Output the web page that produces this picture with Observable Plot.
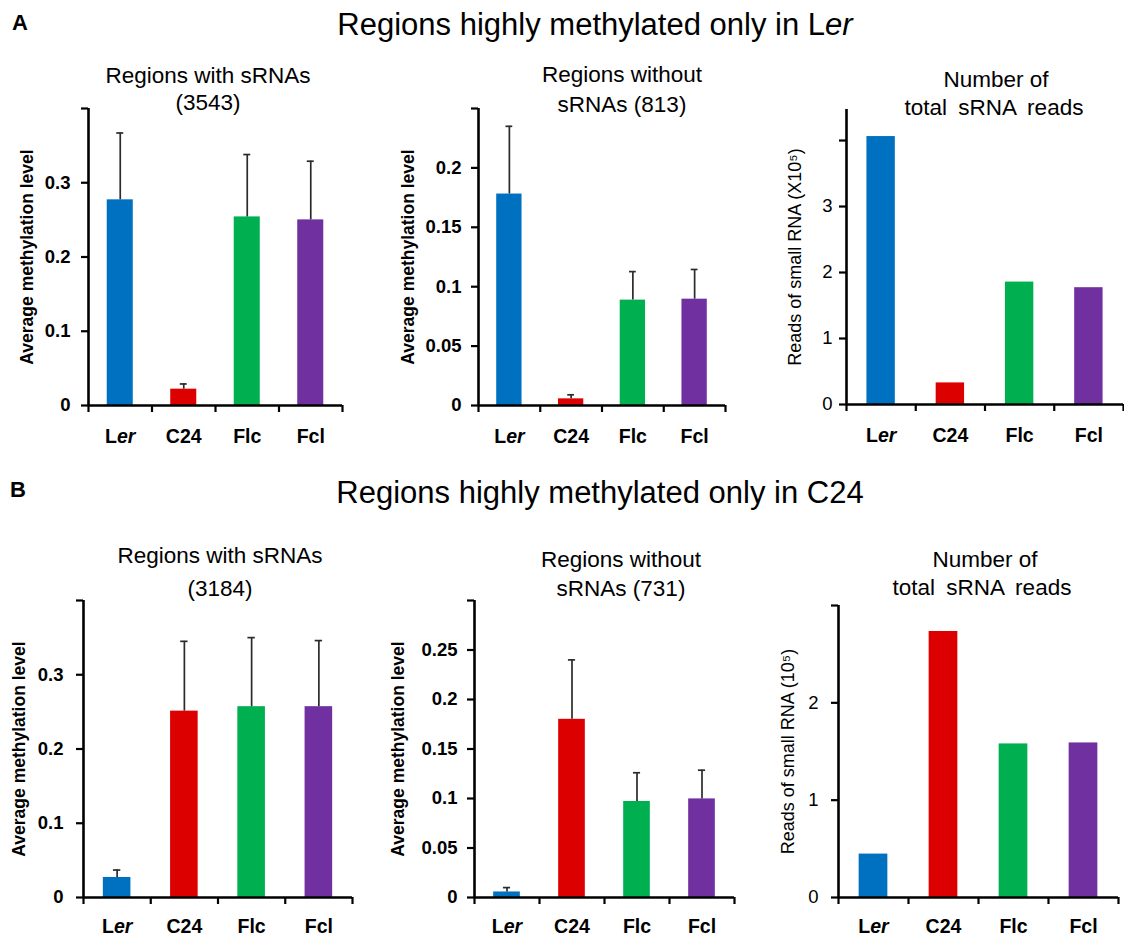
<!DOCTYPE html>
<html><head><meta charset="utf-8">
<script src="https://cdn.jsdelivr.net/npm/d3@7"></script>
<script src="https://cdn.jsdelivr.net/npm/@observablehq/plot@0.6"></script>
<style>
html,body{margin:0;padding:0;background:#fff;}
#page{position:relative;width:1124px;height:937px;overflow:hidden;font-family:"Liberation Sans",Arial,sans-serif;}
#page svg{position:absolute;overflow:visible;}
g[aria-label="y-axis label"] text{font-weight:bold;font-size:17.5px;}
.light g[aria-label="y-axis label"] text{font-weight:normal;font-size:18px;}
g[aria-label="y-axis tick label"] text{font-size:18.5px !important;font-weight:bold;}
.light g[aria-label="y-axis tick label"] text{font-weight:normal;}
g[aria-label="x-axis tick label"] text{font-size:19.5px !important;font-weight:bold;}
</style></head>
<body><div id="page"></div>
<script>
// ---- data ----
const categories = ["Ler", "C24", "Flc", "Fcl"];
const barColors = ["#0070C0", "#DC0000", "#00B050", "#7030A0"];

// Panel A: regions highly methylated only in Ler
const aWithMeans = [0.277, 0.022, 0.254, 0.250];
const aWithErrors = [0.090, 0.007, 0.084, 0.079];
const aWithoutMeans = [0.178, 0.0056, 0.0887, 0.0895];
const aWithoutErrors = [0.057, 0.0034, 0.024, 0.025];
const aReads = [4.06, 0.327, 1.855, 1.77];

// Panel B: regions highly methylated only in C24
const bWithMeans = [0.027, 0.251, 0.257, 0.257];
const bWithErrors = [0.010, 0.094, 0.093, 0.089];
const bWithoutMeans = [0.0056, 0.180, 0.097, 0.0996];
const bWithoutErrors = [0.0044, 0.060, 0.029, 0.029];
const bReads = [0.446, 2.733, 1.578, 1.588];

const yTicksA1 = [0, 0.1, 0.2, 0.3, 0.4];
const yTicksA2 = [0, 0.05, 0.1, 0.15, 0.2, 0.25];
const yTicksA3 = [0, 1, 2, 3, 4];
const yTicksB1 = [0, 0.1, 0.2, 0.3, 0.4];
const yTicksB2 = [0, 0.05, 0.1, 0.15, 0.2, 0.25, 0.3];
const yTicksB3 = [0, 1, 2, 3];

const labelMeth = "Average methylation level";
const labelReadsA = "Reads of small RNA (X10\u2075)";
const labelReadsB = "Reads of small RNA (10\u2075)";

// ---- layout ----
const page = document.getElementById("page");
const FONT = '"Liberation Sans", Arial, sans-serif';

function panel(cfg) {
  const rows = categories.map((c, i) => ({
    i, cat: c, color: barColors[i],
    mean: cfg.means[i],
    top: cfg.errors ? cfg.means[i] + cfg.errors[i] : null
  }));
  const mTop = 10, mBottom = cfg.mBottom;
  const height = (cfg.baseline - cfg.frameTop) + mTop + mBottom;
  const marginLeft = cfg.axisX - cfg.colLeft;
  const marginRight = 8;
  const width = (cfg.rightEnd - cfg.colLeft) + marginRight;
  const barHalf = 0.205, capHalf = 0.055;
  const yMax = cfg.yDomain[1];
  const marks = [
    Plot.rectY(rows, {x1: d => d.i + 0.5 - barHalf, x2: d => d.i + 0.5 + barHalf, y1: 0, y2: "mean", fill: "color"})
  ];
  if (cfg.errors) {
    marks.push(
      Plot.ruleX(rows, {x: d => d.i + 0.5, y1: "mean", y2: "top", stroke: "#2b2b2b", strokeWidth: 1.7}),
      Plot.ruleY(rows, {y: "top", x1: d => d.i + 0.5 - capHalf, x2: d => d.i + 0.5 + capHalf, stroke: "#2b2b2b", strokeWidth: 1.7})
    );
  }
  marks.push(
    Plot.axisY({ticks: cfg.yTicks, tickSize: 7, tickPadding: cfg.tickPadY, strokeWidth: 2.2,
      tickFormat: d => (d === cfg.hideTick ? "" : String(d)),
      label: cfg.yLabel, labelAnchor: "center", labelOffset: cfg.labelOffset, labelArrow: "none"}),
    Plot.axisX({ticks: [0, 1, 2, 3, 4], tickSize: 7, tickFormat: () => "", strokeWidth: 2.2, label: null}),
    Plot.axisX({ticks: [0.5, 1.5, 2.5, 3.5], tickSize: 0, tickPadding: cfg.tickPadX,
      tickFormat: d => categories[Math.floor(d)], label: null}),
    Plot.ruleY([0], {strokeWidth: 2.6}),
    Plot.ruleX([0], {y1: 0, y2: yMax, strokeWidth: 2.6})
  );
  const svg = Plot.plot({
    width, height, marginLeft, marginRight, marginTop: mTop, marginBottom: mBottom,
    x: {domain: [0, 4], axis: null},
    y: {domain: cfg.yDomain, axis: null},
    color: {type: "identity"},
    style: {fontFamily: FONT, fontSize: "18px", fontWeight: "bold", color: "#000", background: "transparent", overflow: "visible"},
    marks
  });
  svg.style.left = cfg.colLeft + "px";
  svg.style.top = (cfg.frameTop - mTop) + "px";
  if (cfg.light) svg.classList.add("light");
  // italic "er" in Ler
  svg.querySelectorAll("text").forEach(t => {
    if (t.textContent === "Ler") {
      t.textContent = "L";
      const ts = document.createElementNS("http://www.w3.org/2000/svg", "tspan");
      ts.setAttribute("font-style", "italic");
      ts.textContent = "er";
      t.appendChild(ts);
    }
  });
  page.appendChild(svg);
}

panel({means: aWithMeans, errors: aWithErrors, yDomain: [0, 0.4], yTicks: yTicksA1, hideTick: 0.4,
  yLabel: labelMeth, colLeft: 0, axisX: 88, frameTop: 108, baseline: 405, rightEnd: 342,
  labelOffset: 68, tickPadY: 11, tickPadX: 24, mBottom: 50});
panel({means: aWithoutMeans, errors: aWithoutErrors, yDomain: [0, 0.25], yTicks: yTicksA2, hideTick: 0.25,
  yLabel: labelMeth, colLeft: 370, axisX: 478, frameTop: 108, baseline: 405, rightEnd: 725,
  labelOffset: 77, tickPadY: 10, tickPadX: 24, mBottom: 50});
panel({means: aReads, errors: null, yDomain: [0, 4.47], yTicks: yTicksA3, hideTick: 4,
  yLabel: labelReadsA, colLeft: 750, axisX: 846, frameTop: 109, baseline: 404, rightEnd: 1123,
  labelOffset: 58, tickPadY: 7, tickPadX: 24, mBottom: 50, light: true});
panel({means: bWithMeans, errors: bWithErrors, yDomain: [0, 0.4], yTicks: yTicksB1, hideTick: 0.4,
  yLabel: labelMeth, colLeft: 0, axisX: 83, frameTop: 600, baseline: 897, rightEnd: 352,
  labelOffset: 71, tickPadY: 13, tickPadX: 22, mBottom: 40});
panel({means: bWithoutMeans, errors: bWithoutErrors, yDomain: [0, 0.3], yTicks: yTicksB2, hideTick: 0.3,
  yLabel: labelMeth, colLeft: 370, axisX: 474, frameTop: 600, baseline: 897, rightEnd: 734,
  labelOffset: 83, tickPadY: 10, tickPadX: 22, mBottom: 40});
panel({means: bReads, errors: null, yDomain: [0, 3], yTicks: yTicksB3, hideTick: 3,
  yLabel: labelReadsB, colLeft: 750, axisX: 838, frameTop: 605, baseline: 897, rightEnd: 1118,
  labelOffset: 57, tickPadY: 13, tickPadX: 22, mBottom: 40, light: true});

// ---- titles ----
const NS = "http://www.w3.org/2000/svg";
const tsvg = document.createElementNS(NS, "svg");
tsvg.setAttribute("width", 1124); tsvg.setAttribute("height", 937);
tsvg.style.left = "0px"; tsvg.style.top = "0px";
tsvg.style.pointerEvents = "none";
function addText(x, y, parts, opts) {
  const t = document.createElementNS(NS, "text");
  t.setAttribute("x", x); t.setAttribute("y", y);
  t.setAttribute("font-family", FONT);
  t.setAttribute("font-size", opts.size);
  if (opts.bold) t.setAttribute("font-weight", "bold");
  t.setAttribute("text-anchor", opts.anchor || "middle");
  if (opts.ws) t.setAttribute("word-spacing", opts.ws);
  t.setAttribute("fill", "#000");
  for (const p of parts) {
    const ts = document.createElementNS(NS, "tspan");
    if (p.italic) ts.setAttribute("font-style", "italic");
    ts.textContent = p.t;
    t.appendChild(ts);
  }
  tsvg.appendChild(t);
}
addText(12, 30, [{t: "A"}], {size: 22, bold: true, anchor: "start"});
addText(595, 35, [{t: "Regions highly methylated only in L"}, {t: "er", italic: true}], {size: 31});
addText(10, 497, [{t: "B"}], {size: 22, bold: true, anchor: "start"});
addText(600, 503, [{t: "Regions highly methylated only in C24"}], {size: 31});

const ps = 22.5;
addText(208, 83, [{t: "Regions with sRNAs"}], {size: ps});
addText(208, 110, [{t: "(3543)"}], {size: ps});
addText(622, 82, [{t: "Regions without"}], {size: ps});
addText(622, 112, [{t: "sRNAs (813)"}], {size: ps});
addText(996, 87, [{t: "Number of"}], {size: ps});
addText(994, 115, [{t: "total sRNA reads"}], {size: ps, ws: 5});

addText(220, 563, [{t: "Regions with sRNAs"}], {size: ps});
addText(220, 596, [{t: "(3184)"}], {size: ps});
addText(621, 567, [{t: "Regions without"}], {size: ps});
addText(621, 596, [{t: "sRNAs (731)"}], {size: ps});
addText(985, 567, [{t: "Number of"}], {size: ps});
addText(982, 595, [{t: "total sRNA reads"}], {size: ps, ws: 5});
page.appendChild(tsvg);
</script>
</body></html>
